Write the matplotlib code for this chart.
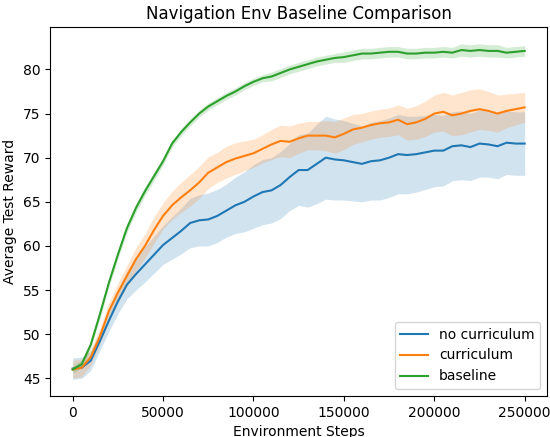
import numpy as np
import matplotlib
matplotlib.use("Agg")
import matplotlib.pyplot as plt

# environment steps (every 5000)
steps = np.arange(0, 250001, 5000)

# mean test reward per run type
no_curriculum = [46.1, 46.2, 47.0, 49.2, 51.5, 53.7, 55.6, 56.8, 57.9, 59.0,
                 60.1, 60.9, 61.7, 62.6, 62.9, 63.0, 63.4, 64.0, 64.6, 65.0,
                 65.6, 66.1, 66.3, 66.9, 67.8, 68.6, 68.6, 69.3, 70.0, 69.8,
                 69.7, 69.5, 69.3, 69.6, 69.7, 70.0, 70.4, 70.3, 70.4, 70.6,
                 70.8, 70.8, 71.3, 71.4, 71.2, 71.6, 71.5, 71.3, 71.7, 71.6, 71.6]
curriculum = [46.0, 46.2, 47.4, 49.7, 52.6, 54.7, 56.6, 58.5, 60.0, 61.8,
              63.4, 64.6, 65.5, 66.3, 67.2, 68.3, 68.9, 69.5, 69.9, 70.2,
              70.5, 71.0, 71.5, 71.9, 71.8, 72.2, 72.5, 72.5, 72.5, 72.3,
              72.7, 73.2, 73.4, 73.7, 73.9, 74.0, 74.3, 73.8, 74.0, 74.4,
              75.0, 75.2, 74.8, 75.0, 75.3, 75.5, 75.3, 75.0, 75.3, 75.5, 75.7]
baseline = [46.0, 46.6, 48.8, 52.2, 55.8, 59.0, 62.0, 64.3, 66.2, 67.9,
            69.6, 71.6, 72.9, 74.0, 75.0, 75.8, 76.4, 77.0, 77.5, 78.1,
            78.6, 79.0, 79.2, 79.6, 80.0, 80.3, 80.6, 80.9, 81.1, 81.3,
            81.4, 81.6, 81.8, 81.8, 81.9, 82.0, 82.0, 81.8, 81.8, 81.9,
            81.9, 82.0, 81.9, 82.2, 82.1, 82.2, 82.1, 82.1, 81.9, 82.0, 82.1]

# spread (std) per run type
no_curriculum_std = [1.2, 1.2, 1.1, 1.1, 1.2, 1.4, 1.6, 1.8, 2.0, 2.1,
                     2.2, 2.4, 2.6, 2.8, 2.9, 3.0, 3.0, 3.0, 3.2, 3.4,
                     3.6, 3.7, 3.7, 3.8, 3.8, 4.0, 4.2, 4.5, 4.7, 4.6,
                     4.5, 4.4, 4.3, 4.4, 4.5, 4.5, 4.5, 4.4, 4.3, 4.2,
                     4.1, 4.0, 3.9, 3.9, 3.8, 3.8, 3.7, 3.7, 3.6, 3.6, 3.6]
curriculum_std = [1.0, 1.0, 0.9, 0.9, 1.0, 1.1, 1.2, 1.3, 1.4, 1.5,
                  1.5, 1.6, 1.7, 1.8, 1.8, 1.8, 1.7, 1.8, 1.8, 1.7,
                  1.6, 1.6, 1.7, 1.8, 1.8, 1.7, 1.6, 1.6, 1.7, 1.8,
                  1.8, 1.7, 1.6, 1.6, 1.6, 1.6, 1.7, 1.8, 1.9, 2.0,
                  2.1, 2.2, 2.3, 2.4, 2.4, 2.3, 2.2, 2.1, 1.9, 1.8, 1.7]
baseline_std = [0.4, 0.4, 0.4, 0.5, 0.5, 0.5, 0.5, 0.5, 0.5, 0.5,
                0.4, 0.4, 0.4, 0.4, 0.4, 0.4, 0.4, 0.4, 0.4, 0.4,
                0.4, 0.4, 0.5, 0.5, 0.5, 0.5, 0.5, 0.5, 0.5, 0.5,
                0.6, 0.6, 0.6, 0.6, 0.6, 0.6, 0.6, 0.6, 0.6, 0.6,
                0.6, 0.6, 0.6, 0.7, 0.7, 0.7, 0.7, 0.7, 0.6, 0.6, 0.6]

runs = [("no curriculum", no_curriculum, no_curriculum_std),
        ("curriculum", curriculum, curriculum_std),
        ("baseline", baseline, baseline_std)]

fig, ax = plt.subplots(figsize=(5.5, 4.37), dpi=100)
for label, mean, std in runs:
    mean = np.array(mean)
    std = np.array(std)
    line, = ax.plot(steps, mean, label=label)
    ax.fill_between(steps, mean - std, mean + std, color=line.get_color(), alpha=0.2, linewidth=0)

ax.set_xlabel("Environment Steps")
ax.set_ylabel("Average Test Reward")
ax.set_title("Navigation Env Baseline Comparison")
ax.legend(loc="lower right")
fig.subplots_adjust(left=0.091, right=0.995, top=0.938, bottom=0.094)
fig.savefig("out.png", dpi=100)
